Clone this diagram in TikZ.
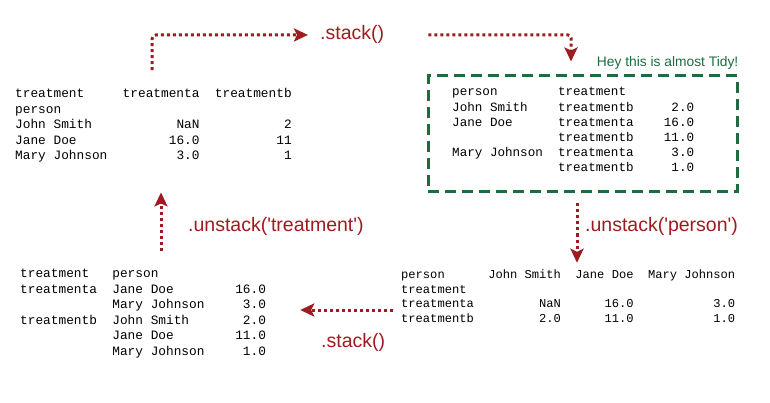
\documentclass[tikz,border=0pt]{standalone}
\usepackage{fontspec}
\setmainfont{Liberation Sans}
\setmonofont{Liberation Mono}
\usepackage{xcolor}
\usetikzlibrary{arrows.meta,positioning}
\definecolor{stackred}{HTML}{9E1B20}
\definecolor{tidygreen}{HTML}{1D6B3F}

\begin{document}
\begin{tikzpicture}[x=1pt,y=-1pt,
    flow/.style={draw=stackred,line width=3pt,dash pattern=on 3pt off 3pt,-{Stealth[length=14pt,width=13pt,inset=3pt]}},
    method/.style={text=stackred,inner sep=0pt,anchor=base west,font=\fontsize{19.5}{23}\selectfont},
    tab/.style 2 args={inner sep=0pt,anchor=base west,font=\ttfamily\fontsize{#1}{#2}\selectfont},
    tidybox/.style={draw=tidygreen,line width=3pt,dash pattern=on 11pt off 6pt,inner sep=0pt}]
    \useasboundingbox (0,0) rectangle (770,403);

    % Wide table (top left)
    \node[tab={12.8}{15.4}] (wideA) at (15,98) {\begin{tabular}[t]{@{}l@{\hspace{1.2em}}r@{\hspace{1.2em}}r@{}}
        treatment & treatmenta & treatmentb\\
        person\\
        John Smith & NaN & 2\\
        Jane Doe & 16.0 & 11\\
        Mary Johnson & 3.0 & 1
    \end{tabular}};

    % Stacked series (top right)
    \node[tidybox,minimum width=309pt,minimum height=116pt] (tidy) at (582.5,134) {};
    \node[anchor=base east,inner sep=0pt,text=tidygreen,font=\fontsize{13.8}{16}\selectfont] (note) at ([yshift=8pt]tidy.north east) {Hey this is almost Tidy!};
    \node[tab={12.6}{15.2}] (longA) at (452,96) {\begin{tabular}[t]{@{}l@{\hspace{1.2em}}l@{\hspace{2.4em}}r@{}}
        person & treatment & \\
        John Smith & treatmentb & 2.0\\
        Jane Doe & treatmenta & 16.0\\
         & treatmentb & 11.0\\
        Mary Johnson & treatmenta & 3.0\\
         & treatmentb & 1.0
    \end{tabular}};

    % Wide table by person (bottom right)
    \node[tab={12.1}{14.6}] (wideB) at (401,278.7) {\begin{tabular}[t]{@{}l@{\hspace{1.2em}}r@{\hspace{1.2em}}r@{\hspace{1.2em}}r@{}}
        person & John Smith & Jane Doe & Mary Johnson\\
        treatment\\
        treatmenta & NaN & 16.0 & 3.0\\
        treatmentb & 2.0 & 11.0 & 1.0
    \end{tabular}};

    % Stacked series by treatment (bottom left)
    \node[tab={12.8}{15.6}] (longB) at (20,277.5) {\begin{tabular}[t]{@{}l@{\hspace{1.2em}}l@{\hspace{2.4em}}r@{}}
        treatment & person & \\
        treatmenta & Jane Doe & 16.0\\
         & Mary Johnson & 3.0\\
        treatmentb & John Smith & 2.0\\
         & Jane Doe & 11.0\\
         & Mary Johnson & 1.0
    \end{tabular}};

    % Method labels
    \node[method] (stackA) at (320,40) {.stack()};
    \node[method] (unstackP) at (585,231) {.unstack(\textquotesingle person\textquotesingle)};
    \node[method] (stackB) at (321,347) {.stack()};
    \node[method] (unstackT) at (188,231) {.unstack(\textquotesingle treatment\textquotesingle)};

    % Arrows
    \draw[flow,rounded corners=4pt,shorten <=17pt,shorten >=12pt] (152,0 |- wideA.north) |- (stackA.west);
    \draw[flow,rounded corners=3pt,shorten <=44pt,shorten >=13pt] (stackA.east) -| (571,0 |- tidy.north);
    \draw[flow,shorten <=10pt,shorten >=5.5pt] (577,0 |- tidy.south) -- (577,0 |- wideB.north);
    \draw[flow,shorten <=8pt,shorten >=34pt] (wideB.west |- 0,310) -- (longB.east |- 0,310);
    \draw[flow,shorten <=15.5pt,shorten >=28pt] (161,0 |- longB.north) -- (161,0 |- wideA.south);
\end{tikzpicture}
\end{document}
